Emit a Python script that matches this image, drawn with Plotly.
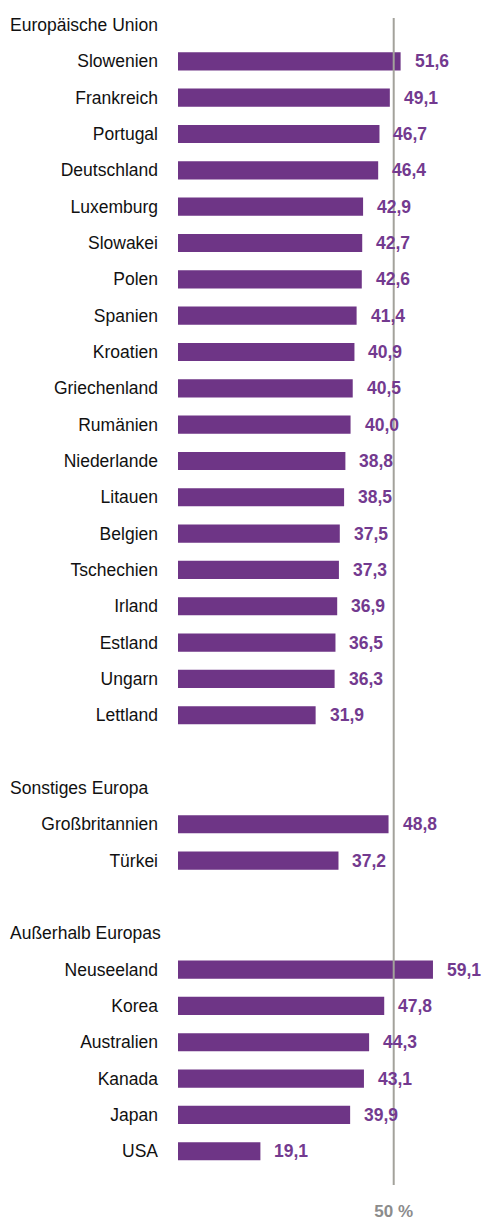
import plotly.graph_objects as go

# ---- data ----
group_names = ["Europäische Union", "Sonstiges Europa", "Außerhalb Europas"]

eu_countries = ["Slowenien", "Frankreich", "Portugal", "Deutschland", "Luxemburg",
                "Slowakei", "Polen", "Spanien", "Kroatien", "Griechenland", "Rumänien",
                "Niederlande", "Litauen", "Belgien", "Tschechien", "Irland", "Estland",
                "Ungarn", "Lettland"]
eu_values = [51.6, 49.1, 46.7, 46.4, 42.9, 42.7, 42.6, 41.4, 40.9, 40.5, 40.0,
             38.8, 38.5, 37.5, 37.3, 36.9, 36.5, 36.3, 31.9]

other_europe_countries = ["Großbritannien", "Türkei"]
other_europe_values = [48.8, 37.2]

non_europe_countries = ["Neuseeland", "Korea", "Australien", "Kanada", "Japan", "USA"]
non_europe_values = [59.1, 47.8, 44.3, 43.1, 39.9, 19.1]

reference_value = 50
reference_label = "50 %"

# ---- build rows ----
groups = [(group_names[0], eu_countries, eu_values),
          (group_names[1], other_europe_countries, other_europe_values),
          (group_names[2], non_europe_countries, non_europe_values)]

bar_y, bar_x, bar_names = [], [], []
header_rows = []
row = 0
for gi, (gname, countries, values) in enumerate(groups):
    header_rows.append((row, gname))
    row += 1
    for c, v in zip(countries, values):
        bar_y.append(row)
        bar_x.append(v)
        bar_names.append(c)
        row += 1
    row += 1  # blank row between groups

PURPLE = "#6e3586"
TEXT_PURPLE = "#733a8f"
FONT = "Liberation Sans, Arial, sans-serif"

fig = go.Figure()
fig.add_trace(go.Bar(
    x=bar_x, y=bar_y, orientation="h",
    width=0.5,
    marker=dict(color=PURPLE, line=dict(width=0)),
    hoverinfo="skip",
))

# value labels
for y, v in zip(bar_y, bar_x):
    fig.add_annotation(
        x=v, y=y, xref="x", yref="y",
        text=f"<b>{v:.1f}</b>".replace(".", ","),
        showarrow=False, xanchor="left", yanchor="middle", xshift=12,
        font=dict(family=FONT, size=17.5, color=TEXT_PURPLE),
    )

# group headers
for r, name in header_rows:
    fig.add_annotation(
        x=0, y=r, xref="paper", yref="y",
        text=name, showarrow=False, xanchor="left", yanchor="middle",
        xshift=-170,
        font=dict(family=FONT, size=17.5, color="#111111"),
    )

# reference line
fig.add_shape(type="line", x0=reference_value, x1=reference_value,
              y0=0, y1=1, xref="x", yref="paper",
              line=dict(color="#a3a29b", width=2), layer="above")

fig.update_layout(
    width=483, height=1220,
    margin=dict(l=178, r=3, t=18, b=35),
    paper_bgcolor="white", plot_bgcolor="white",
    showlegend=False,
    xaxis=dict(range=[0, 70], showgrid=False, zeroline=False, showline=False,
               automargin=False,
               tickvals=[reference_value], ticktext=[f"<b>{reference_label}</b>"],
               ticks="", ticklabelstandoff=14,
               tickfont=dict(family=FONT, size=17, color="#8c8c8c")),
    yaxis=dict(range=[31.93, -0.193], showgrid=False, zeroline=False, showline=False,
               automargin=False,
               tickvals=bar_y, ticktext=bar_names, ticks="", ticklabelstandoff=19,
               tickfont=dict(family=FONT, size=17.5, color="#111111")),
)

fig.write_html("out.html", config={"displayModeBar": False},
               post_script="document.body.style.margin='0';document.body.style.overflow='hidden';")
